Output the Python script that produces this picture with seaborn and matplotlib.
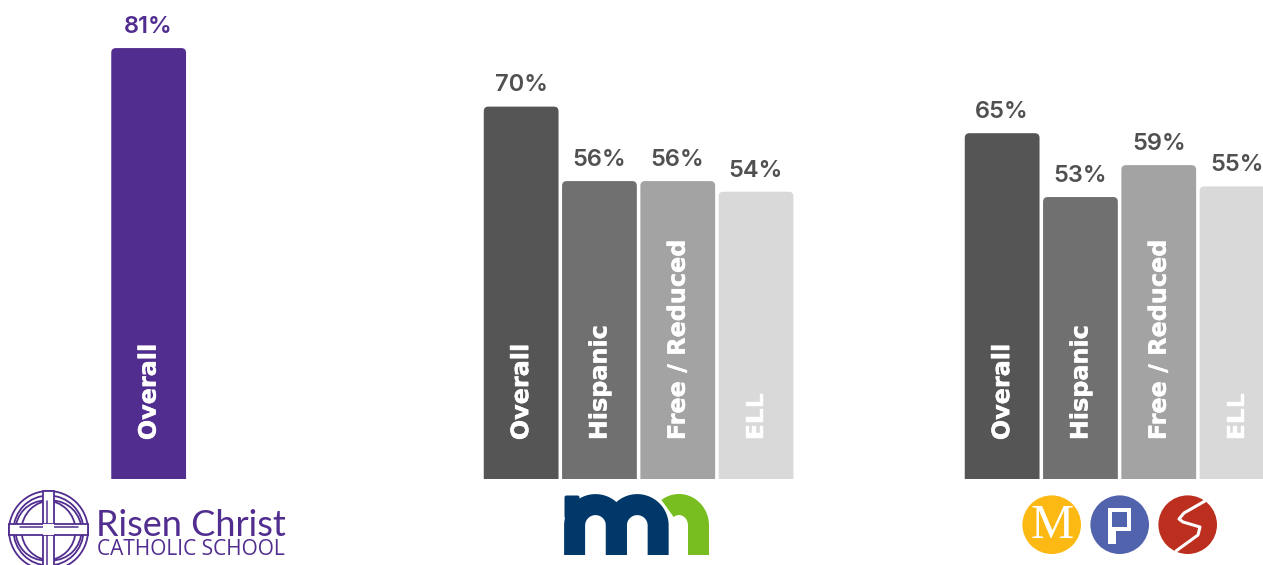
import numpy as np
import pandas as pd
import matplotlib
matplotlib.use("Agg")
import matplotlib.pyplot as plt
import matplotlib.patheffects as pe
import seaborn as sns
from matplotlib.patches import FancyBboxPatch, Circle, Rectangle, Polygon

sns.set_theme(style="white")
plt.rcParams['font.family'] = ['Inter', 'DejaVu Sans']

# chart values
risen_groups = ["Overall"]
risen_values = [81]
mn_groups = ["Overall", "Hispanic", "Free / Reduced", "ELL"]
mn_values = [70, 56, 56, 54]
mps_groups = ["Overall", "Hispanic", "Free / Reduced", "ELL"]
mps_values = [65, 53, 59, 55]

PURPLE = "#512d8f"
GREYS = ["#555555", "#707070", "#a3a3a3", "#d9d9d9"]
W, H = 1263, 565
BASE = 479        # bar baseline, px from top
PX_PER_PCT = 5.32
PITCH = 78.3

fig = plt.figure(figsize=(W / 100, H / 100), dpi=100)


def draw_group(left, groups, values, colors, label_color):
    n = len(groups)
    ax = fig.add_axes([left / W, 1 - BASE / H, n * PITCH / W, BASE / H])
    df = pd.DataFrame({"group": groups, "pct": values})
    sns.barplot(data=df, x="group", y="pct", hue="group", palette=colors,
                width=0.955, legend=False, ax=ax, saturation=1)
    ax.set_xlim(-0.5, n - 0.5)
    ax.set_ylim(0, BASE / PX_PER_PCT)
    ax.axis("off")

    for bar, group, val in zip(list(ax.patches), groups, values):
        x, w, h = bar.get_x(), bar.get_width(), bar.get_height()
        color = bar.get_facecolor()
        bar.remove()
        # round the top corners, the bottom ones get clipped by the axes
        pad = 0.06
        box = FancyBboxPatch((x + pad, -3), w - 2 * pad, h + 3 - pad * PITCH / PX_PER_PCT,
                             boxstyle=f"round,pad={pad},rounding_size={pad}",
                             mutation_aspect=PITCH / PX_PER_PCT,
                             fc=color, ec="none")
        ax.add_patch(box)
        ax.text(x + w / 2, h + 2.85, f"{val}%", ha="center", va="baseline",
                fontsize=17, fontweight=600, color=label_color)
        ax.text(x + w / 2, 7.3, group, rotation=90, ha="center", va="bottom",
                fontsize=17.2, fontweight="bold", color="white",
                family=["DejaVu Sans"],
                path_effects=[pe.withStroke(linewidth=0.3, foreground="white")])
    return ax


draw_group(109.5, risen_groups, risen_values, [PURPLE], PURPLE)
draw_group(482, mn_groups, mn_values, GREYS, "#505050")
draw_group(963, mps_groups, mps_values, GREYS, "#505050")

# logos, drawn in pixel coordinates on a full figure overlay
logo = fig.add_axes([0, 0, 1, 1], zorder=5)
logo.set_xlim(0, W)
logo.set_ylim(H, 0)
logo.axis("off")
logo.patch.set_alpha(0)

# Risen Christ crest
cx, cy = 48.5, 530.5
for r, dx in [(39.5, 0), (35, 0), (30, -3), (30, 3)]:
    logo.add_patch(Circle((cx + dx, cy), r, fc="none", ec=PURPLE, lw=1.3))
logo.add_patch(Rectangle((43, 491), 11, 80, fc="white", ec=PURPLE, lw=1.3))
logo.add_patch(Rectangle((9, 523.5), 79, 11.5, fc="white", ec=PURPLE, lw=1.3))
logo.add_patch(Rectangle((43, 523.5), 11, 11.5, fc="white", ec="none", zorder=3))
logo.plot([47, 47], [501, 565], color=PURPLE, lw=1.1)
logo.plot([20, 78], [527, 527], color=PURPLE, lw=1.1)
logo.text(96, 535.5, "Risen Christ", fontsize=26, color=PURPLE, ha="left", va="baseline",
          family=["Lato", "DejaVu Sans"])
logo.text(97, 555, "CATHOLIC SCHOOL", fontsize=15, color=PURPLE, ha="left", va="baseline",
          family=["Open Sans", "DejaVu Sans"])

# mn logo
NAVY = "#00386a"
GREEN = "#78be21"
STROKE = 21 * 0.72
t = np.linspace(np.pi, 2 * np.pi, 40)
for x0 in [595.5, 637.25]:
    r = 20.9
    xs = np.r_[x0 - r, x0 + r * np.cos(t), x0 + r]
    ys = np.r_[555, 525.5 + r * np.sin(t), 555]
    logo.plot(xs, ys, color=NAVY, lw=STROKE, solid_capstyle="butt")
logo.add_patch(FancyBboxPatch((566, 497), 12, 20, boxstyle="round,pad=1.5,rounding_size=2",
                              fc=NAVY, ec="none"))
t = np.linspace(1.3 * np.pi, 2 * np.pi, 30)
xs = np.r_[679 + 19.5 * np.cos(t), 698.5]
ys = np.r_[525.5 + 21 * np.sin(t), 555]
logo.plot(xs, ys, color=GREEN, lw=STROKE, solid_capstyle="butt",
          path_effects=[pe.Stroke(linewidth=STROKE + 1.5, foreground="white"), pe.Normal()])

# MPS circles
logo.add_patch(Circle((1051.7, 524.7), 29.3, fc="#fdb913", ec="none"))
logo.text(1051.7, 525.5, "M", fontsize=35, color="white", ha="center", va="center",
          family=["Liberation Serif"])
logo.add_patch(Circle((1119.7, 524.7), 29.3, fc="#5263ae", ec="none"))
logo.add_patch(Polygon([(1108, 508), (1131, 508), (1131, 531), (1116, 531), (1116, 543.5), (1108, 543.5)],
                       fc="white", ec="none"))
logo.add_patch(Rectangle((1112, 512), 15, 15, fc="#5263ae", ec="none"))
logo.add_patch(Circle((1187.7, 524.7), 29.3, fc="#bc2f1e", ec="none"))
logo.plot([1205, 1184, 1179, 1183, 1200, 1198, 1176],
          [501, 513, 519, 522, 527, 535, 551], color="white", lw=2.2,
          solid_joinstyle="round")

fig.savefig("out.png", dpi=100)
